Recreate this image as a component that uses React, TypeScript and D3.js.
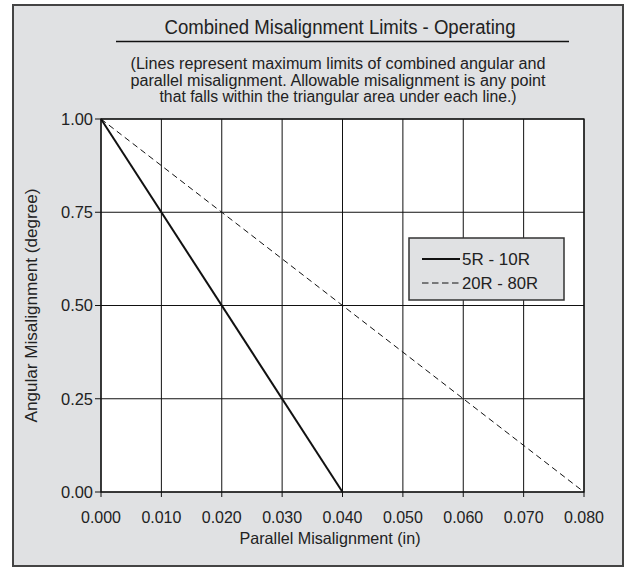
import * as d3 from 'd3';

// Series data
const seriesNames = ['5R - 10R', '20R - 80R'];
const solidLine: [number, number][] = [[0, 1.0], [0.04, 0]];
const dashedLine: [number, number][] = [[0, 1.0], [0.08, 0]];
const xTicks = [0, 0.01, 0.02, 0.03, 0.04, 0.05, 0.06, 0.07, 0.08];
const yTicks = [0, 0.25, 0.5, 0.75, 1.0];
const title = 'Combined Misalignment Limits - Operating';
const subtitleLines = [
  '(Lines represent maximum limits of combined angular and',
  'parallel misalignment. Allowable misalignment is any point',
  'that falls within the triangular area under each line.)',
];

const FONT = '"Liberation Sans", Arial, Helvetica, sans-serif';
const BG = '#e0e1e3';
const INK = '#222';

export default function App() {
  const W = 626;
  const H = 568;
  const margin = { left: 101, right: 42, top: 119, bottom: 76 };
  const innerW = W - margin.left - margin.right;
  const innerH = H - margin.top - margin.bottom;

  const x = d3.scaleLinear().domain([0, 0.08]).range([0, innerW]);
  const y = d3.scaleLinear().domain([0, 1]).range([innerH, 0]);
  const line = d3.line<[number, number]>().x(d => x(d[0])).y(d => y(d[1]));

  const subWidths = [415, 415, 357];

  return (
    <svg width={W} height={H} style={{ position: 'absolute', left: 0, top: 0, fontFamily: FONT }}>
      <rect x={13} y={5} width={610} height={561} fill={BG} stroke="#444" strokeWidth={2} />
      <text x={340} y={34} textAnchor="middle" fontSize={20} fill={INK}
        textLength={351} lengthAdjust="spacingAndGlyphs">
        {title}
      </text>
      <line x1={116} x2={569} y1={41.5} y2={41.5} stroke="#111" strokeWidth={1.5} />
      {subtitleLines.map((t, i) => (
        <text key={i} x={338} y={69 + i * 16.5} textAnchor="middle" fontSize={16} fill={INK}
          textLength={subWidths[i]} lengthAdjust="spacingAndGlyphs">
          {t}
        </text>
      ))}
      <g transform={`translate(${margin.left},${margin.top})`}>
        <rect x={0} y={0} width={innerW} height={innerH} fill="#fff" />
        {xTicks.map((t, i) => (
          <line key={'gx' + i} x1={x(t)} x2={x(t)} y1={0} y2={innerH} stroke="#111" strokeWidth={1} />
        ))}
        {yTicks.map((t, i) => (
          <line key={'gy' + i} x1={0} x2={innerW} y1={y(t)} y2={y(t)} stroke="#111" strokeWidth={1} />
        ))}
        <rect x={0} y={0} width={innerW} height={innerH} fill="none" stroke="#111" strokeWidth={1.3} />
        {yTicks.map((t, i) => (
          <line key={'ty' + i} x1={-6} x2={0} y1={y(t)} y2={y(t)} stroke="#111" />
        ))}
        {xTicks.map((t, i) => (
          <line key={'tx' + i} x1={x(t)} x2={x(t)} y1={innerH} y2={innerH + 5} stroke="#111" />
        ))}
        {yTicks.map((t, i) => (
          <text key={'ly' + i} x={-8} y={y(t)} dy="0.35em" textAnchor="end" fontSize={16.5} fill={INK}
            textLength={32} lengthAdjust="spacingAndGlyphs">
            {d3.format('.2f')(t)}
          </text>
        ))}
        {xTicks.map((t, i) => (
          <text key={'lx' + i} x={x(t)} y={innerH + 31} textAnchor="middle" fontSize={16.5} fill={INK}
            textLength={40} lengthAdjust="spacingAndGlyphs">
            {d3.format('.3f')(t)}
          </text>
        ))}
        <path d={line(dashedLine) ?? ''} fill="none" stroke="#111" strokeWidth={1} strokeDasharray="6,4" />
        <path d={line(solidLine) ?? ''} fill="none" stroke="#111" strokeWidth={2} />
        {/* legend */}
        <g transform={`translate(${409 - margin.left},${238 - margin.top})`}>
          <rect x={0} y={0} width={155} height={62} fill={BG} stroke="#333" strokeWidth={1.5} />
          <line x1={13} x2={51} y1={21} y2={21} stroke="#111" strokeWidth={2} />
          <line x1={13} x2={51} y1={45} y2={45} stroke="#111" strokeWidth={1} strokeDasharray="6.5,3.5" />
          <text x={53} y={21} dy="0.36em" fontSize={17} fill={INK}
            textLength={68} lengthAdjust="spacingAndGlyphs">{seriesNames[0]}</text>
          <text x={53} y={45} dy="0.36em" fontSize={17} fill={INK}
            textLength={76} lengthAdjust="spacingAndGlyphs">{seriesNames[1]}</text>
        </g>
      </g>
      <text
        transform={`translate(37,${margin.top + innerH / 2}) rotate(-90)`}
        textAnchor="middle"
        fontSize={16.5}
        fill={INK}
        textLength={234}
        lengthAdjust="spacingAndGlyphs"
      >
        Angular Misalignment (degree)
      </text>
      <text x={330} y={544} textAnchor="middle" fontSize={16.5} fill={INK}
        textLength={181} lengthAdjust="spacingAndGlyphs">
        Parallel Misalignment (in)
      </text>
    </svg>
  );
}
